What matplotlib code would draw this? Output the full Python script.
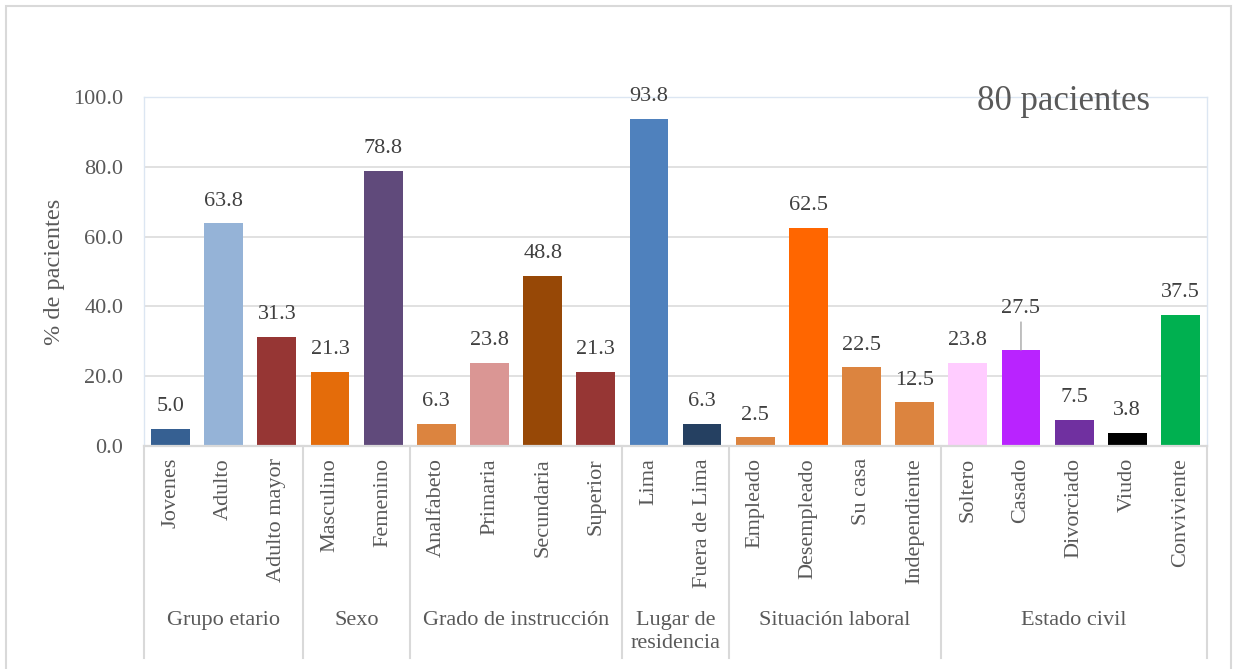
import matplotlib
matplotlib.use("Agg")
import matplotlib.pyplot as plt
import matplotlib.transforms as mtransforms
from matplotlib.lines import Line2D
from matplotlib.patches import Rectangle

# datos: % de pacientes por categoria (n = 80)
categorias = ["Jovenes", "Adulto", "Adulto mayor",
              "Masculino", "Femenino",
              "Analfabeto", "Primaria", "Secundaria", "Superior",
              "Lima", "Fuera de Lima",
              "Empleado", "Desempleado", "Su casa", "Independiente",
              "Soltero", "Casado", "Divorciado", "Viudo", "Conviviente"]
porcentajes = [5.0, 63.8, 31.3,
               21.3, 78.8,
               6.3, 23.8, 48.8, 21.3,
               93.8, 6.3,
               2.5, 62.5, 22.5, 12.5,
               23.8, 27.5, 7.5, 3.8, 37.5]
grupos = ["Grupo etario", "Sexo", "Grado de instrucción",
          "Lugar de\nresidencia", "Situación laboral", "Estado civil"]
tam_grupos = [3, 2, 4, 2, 4, 5]
colores = ["#366092", "#95B3D7", "#963634",
           "#E46C0A", "#604A7B",
           "#DC843F", "#DA9694", "#974806", "#963634",
           "#4F81BD", "#254061",
           "#DC843F", "#FF6600", "#DC843F", "#DC843F",
           "#FFCCFF", "#B923FF", "#7030A0", "#000000", "#00B050"]
yticks = [0, 20, 40, 60, 80, 100]

W, H = 1235, 669
plt.rcParams["font.family"] = ["Liberation Serif", "DejaVu Serif"]

fig = plt.figure(figsize=(W / 100, H / 100), dpi=100)
ax = fig.add_axes([144 / W, 1 - 446 / H, (1207 - 144) / W, (446 - 97) / H])

x = list(range(len(categorias)))
ax.bar(x, porcentajes, width=0.73, color=colores, zorder=3)

for i, v in enumerate(porcentajes):
    if categorias[i] == "Casado":
        ax.annotate(f"{v:.1f}", xy=(i, v), xytext=(0, 30), textcoords="offset points",
                    ha="center", va="center", fontsize=16, color="#404040",
                    arrowprops=dict(arrowstyle="-", color="#A6A6A6", lw=1,
                                    shrinkA=1, shrinkB=0), zorder=4)
    else:
        ax.annotate(f"{v:.1f}", xy=(i, v), xytext=(0, 16), textcoords="offset points",
                    ha="center", va="center", fontsize=16, color="#404040",
                    annotation_clip=False, zorder=4)

ax.set_xlim(-0.5, len(categorias) - 0.5)
ax.set_ylim(0, 100)
ax.set_yticks(yticks)
ax.set_yticklabels([f"{t:.1f}" for t in yticks])
ax.set_xticks([])
ax.tick_params(axis="y", length=0, pad=15, labelsize=16, labelcolor="#595959")
ax.grid(axis="y", color="#D9D9D9", lw=1.1, zorder=0)

for lado in ["left", "right", "top"]:
    ax.spines[lado].set_color("#DCE6F2")
    ax.spines[lado].set_linewidth(1)
ax.spines["bottom"].set_color("#D9D9D9")
ax.spines["bottom"].set_linewidth(1.6)
ax.spines["bottom"].set_zorder(5)

# eje de categorias en dos niveles
trans = mtransforms.blended_transform_factory(ax.transData, fig.transFigure)
for i, c in enumerate(categorias):
    ax.text(i, 1 - 458 / H, c, transform=trans, rotation=90, ha="center", va="top",
            fontsize=16, color="#595959")

inicio = -0.5
ax.add_line(Line2D([inicio, inicio], [1 - 446 / H, 1 - 658 / H], transform=trans,
                   color="#D9D9D9", lw=1.5, clip_on=False))
for g, n in zip(grupos, tam_grupos):
    fin = inicio + n
    ax.add_line(Line2D([fin, fin], [1 - 446 / H, 1 - 658 / H], transform=trans,
                       color="#D9D9D9", lw=1.5, clip_on=False))
    ax.text((inicio + fin) / 2, 1 - 611 / H, g, transform=trans, ha="center", va="top",
            fontsize=16, color="#595959", linespacing=1.25)
    inicio = fin

fig.text(55 / W, 1 - 272 / H, "% de pacientes", rotation=90, ha="center", va="center",
         fontsize=17.5, color="#595959")
fig.text(1150 / W, 1 - 110 / H, "80 pacientes", ha="right", va="baseline",
         fontsize=25, color="#595959")

# marco exterior del grafico
fig.add_artist(Rectangle((6 / W, -0.05), (1231 - 6) / W, 1.05 - 6 / H,
                         transform=fig.transFigure, fill=False,
                         edgecolor="#D9D9D9", lw=1.5))

fig.savefig("out.png", dpi=100)
